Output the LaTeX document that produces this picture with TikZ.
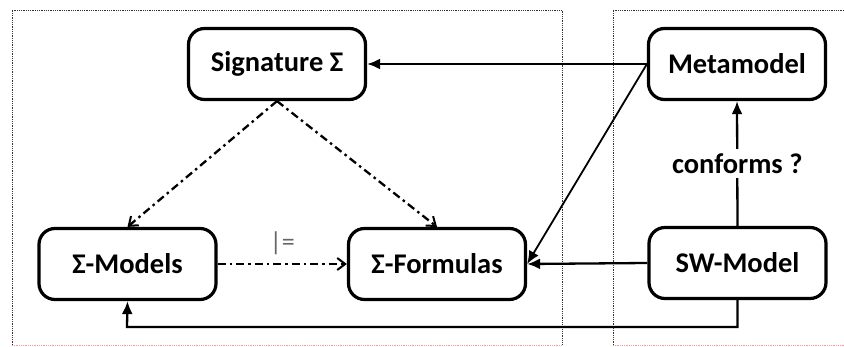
\documentclass[tikz,border=0pt]{standalone}
\usepackage{fontspec}
\setmainfont{Carlito}
\usetikzlibrary{arrows.meta}
\begin{document}
\begin{tikzpicture}[x=1pt,y=-1pt,
  box/.style={draw=black,line width=3.2pt,rounded corners=16pt,minimum width=177pt,minimum height=71pt,font=\fontsize{28.5}{30}\selectfont\bfseries,inner sep=0pt},
  solidarr/.style={line width=2.3pt,-{Latex[length=13pt,width=11pt]}},
  dasharr/.style={line width=2.3pt,dash pattern=on 8pt off 4pt on 2.5pt off 4pt,-{Straight Barb[length=8pt,width=12pt,line width=2pt]}},
  frame/.style={draw=black!80,line width=0.8pt,densely dotted}]
\useasboundingbox (0,0) rectangle (844,347);
\draw[frame] (12,345) -- (12,10) -- (562,10) -- (562,345);
\draw[frame] (613,345) -- (613,10) -- (846,10);
\draw[frame,draw=red!40] (12,345) -- (562,345);
\draw[frame,draw=red!40] (613,345) -- (846,345);
\node[box] (sig) at (277,64) {Signature Σ};
\node[box] (mm) at (737,64) {Metamodel};
\node[box] (mod) at (127.5,264) {Σ-Models};
\node[box] (form) at (437,264) {Σ-Formulas};
\node[box] (sw) at (737.5,263) {SW-Model};
\coordinate (b1) at (737.5,327);
\coordinate (b2) at (127,327);
\draw[solidarr] (mm.west) -- (sig.east);
\draw[solidarr,line width=1.8pt] (mm.west) -- (form.east);
\draw[solidarr] (sw.west) -- (form.east);
\draw[solidarr] (sw.north) -- node[fill=white,font=\fontsize{28.5}{30}\selectfont\bfseries,inner sep=4pt] (lab) {conforms ?} (mm.south);
\draw[solidarr] (sw.south) -- (b1) -- (b2) -- (mod.south);
\draw[dasharr] (sig.south) -- (mod.north);
\draw[dasharr] (sig.south) -- (form.north);
\draw[dasharr] (mod.east) -- node[above=5pt,font=\fontsize{26}{28}\selectfont,text=black!60] (sat) {|=} (form.west);
\end{tikzpicture}
\end{document}
